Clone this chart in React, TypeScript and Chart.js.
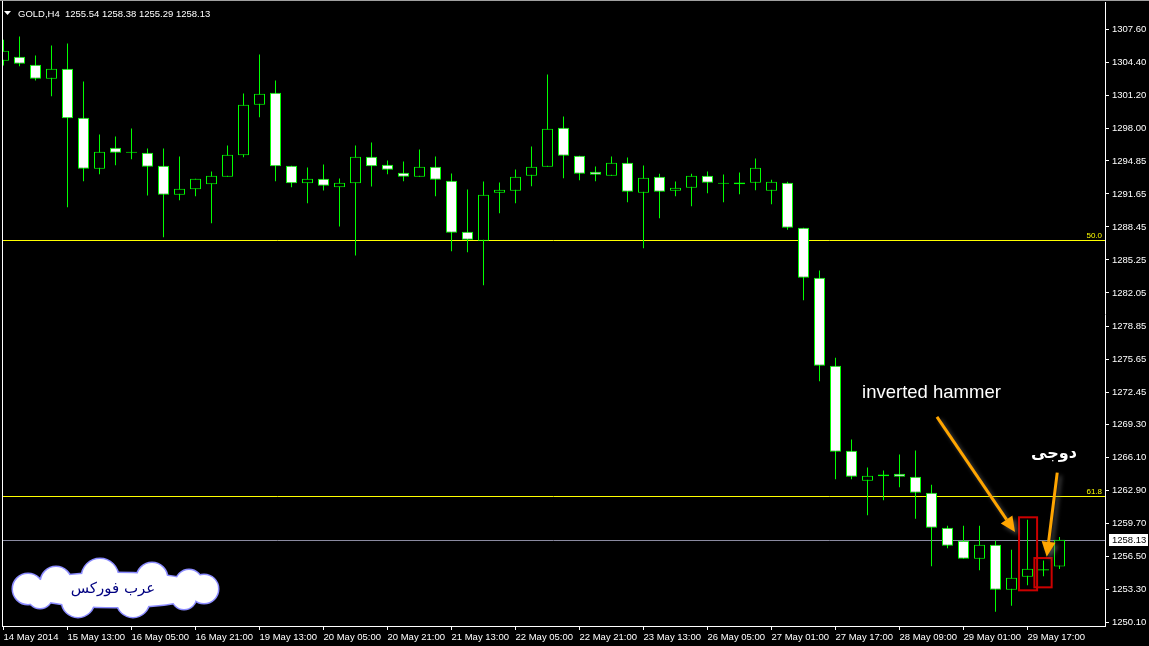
import React, { useEffect, useRef } from 'react';
import { Chart, registerables } from 'chart.js';

Chart.register(...registerables);

// ---------------- data ----------------
const symbolTitle = 'GOLD,H4';

const timeLabels = [
  '14 May 2014', '15 May 13:00', '16 May 05:00', '16 May 21:00', '19 May 13:00',
  '20 May 05:00', '20 May 21:00', '21 May 13:00', '22 May 05:00', '22 May 21:00',
  '23 May 13:00', '26 May 05:00', '27 May 01:00', '27 May 17:00', '28 May 09:00',
  '29 May 01:00', '29 May 17:00',
];
const timeLabelBars = [0, 4, 8, 12, 16, 20, 24, 28, 32, 36, 40, 44, 48, 52, 56, 60, 64];

const priceTicks = [
  1307.6, 1304.4, 1301.2, 1298.0, 1294.85, 1291.65, 1288.45, 1285.25, 1282.05, 1278.85,
  1275.65, 1272.45, 1269.3, 1266.1, 1262.9, 1259.7, 1256.5, 1253.3, 1250.1,
];

const opens = [
  1304.57, 1304.95, 1304.18, 1302.82, 1303.79, 1299.04, 1294.09, 1296.13, 1295.64, 1295.64,
  1294.38, 1291.57, 1292.11, 1292.60, 1293.32, 1295.41, 1300.30, 1301.46, 1294.38, 1292.70,
  1293.12, 1292.31, 1292.70, 1295.26, 1294.48, 1293.70, 1293.32, 1294.29, 1292.93, 1287.98,
  1287.11, 1291.77, 1291.96, 1293.41, 1294.29, 1298.07, 1295.35, 1293.80, 1293.41, 1294.67,
  1291.77, 1293.32, 1291.96, 1292.25, 1293.41, 1292.64, 1292.60, 1292.74, 1291.96, 1292.74,
  1288.37, 1283.52, 1274.99, 1266.75, 1263.84, 1264.28, 1264.52, 1264.23, 1262.68, 1259.28,
  1258.02, 1256.28, 1257.63, 1253.27, 1254.53, 1255.14, 1255.54,
];
const highs = [
  1306.60, 1306.92, 1305.08, 1306.05, 1306.24, 1302.56, 1297.42, 1297.22, 1298.00, 1296.06,
  1296.06, 1295.29, 1293.12, 1293.83, 1296.35, 1301.39, 1305.18, 1302.65, 1294.38, 1294.22,
  1294.51, 1293.15, 1296.35, 1296.64, 1294.90, 1294.80, 1295.96, 1295.29, 1293.64, 1292.09,
  1292.86, 1292.76, 1294.03, 1296.26, 1303.24, 1299.16, 1295.35, 1294.32, 1295.29, 1295.19,
  1294.41, 1293.61, 1292.86, 1293.61, 1293.83, 1293.54, 1293.73, 1295.09, 1293.03, 1292.83,
  1288.37, 1284.23, 1275.77, 1267.84, 1265.13, 1264.84, 1266.39, 1266.78, 1263.45, 1259.48,
  1259.48, 1259.48, 1258.02, 1257.15, 1260.06, 1256.11, 1258.38,
];
const lows = [
  1304.11, 1304.04, 1302.65, 1301.13, 1290.37, 1292.89, 1293.57, 1294.44, 1295.02, 1291.50,
  1287.46, 1291.05, 1291.44, 1288.82, 1293.32, 1295.22, 1299.10, 1292.89, 1292.31, 1290.76,
  1291.99, 1288.50, 1285.69, 1292.38, 1293.57, 1292.89, 1293.32, 1291.44, 1286.10, 1286.01,
  1282.81, 1289.79, 1290.76, 1292.41, 1294.29, 1293.18, 1292.99, 1292.89, 1293.41, 1290.85,
  1286.39, 1289.30, 1291.44, 1290.47, 1291.73, 1290.85, 1291.63, 1292.02, 1290.66, 1288.18,
  1281.35, 1273.50, 1264.00, 1264.00, 1260.50, 1261.96, 1263.22, 1260.15, 1255.56, 1257.30,
  1256.28, 1255.17, 1251.14, 1251.72, 1253.72, 1254.59, 1255.29,
];
const closes = [
  1305.53, 1304.27, 1302.82, 1303.79, 1299.00, 1294.09, 1295.74, 1295.64, 1295.64, 1294.29,
  1291.57, 1292.15, 1293.12, 1293.41, 1295.45, 1300.30, 1301.37, 1294.34, 1292.70, 1293.12,
  1292.44, 1292.74, 1295.26, 1294.34, 1294.00, 1293.32, 1294.29, 1293.03, 1287.89, 1287.21,
  1291.57, 1292.06, 1293.32, 1294.29, 1297.97, 1295.35, 1293.61, 1293.51, 1294.67, 1291.86,
  1293.22, 1291.86, 1292.25, 1293.41, 1292.74, 1292.64, 1292.76, 1294.19, 1292.83, 1288.37,
  1283.52, 1274.99, 1266.65, 1264.23, 1264.32, 1264.45, 1264.23, 1262.68, 1259.28, 1257.54,
  1256.28, 1257.63, 1253.27, 1254.43, 1255.31, 1255.27, 1258.13,
];

const fibLevels = [1287.21, 1262.41];
const fibNames = ['50.0', '61.8'];
const lastPrice = 1258.13;

// annotations (in bar index / price units)
const hammerLabel = { text: 'inverted hammer', x: 53.66, y: 1271.9 };
const dojiLabel = { text: 'دوجی', x: 65.66, y: 1266.44 };
const arrowStarts = [[58.34, 1270.03], [65.86, 1264.63]];
const arrowEnds = [[63.22, 1258.88], [65.2, 1256.48]];
const boxX0 = [63.47, 64.43];
const boxX1 = [64.6, 65.51];
const boxTop = [1260.3, 1256.35];
const boxBottom = [1253.22, 1253.51];
const logoText = 'عرب فوركس';

// ---------------- layout ----------------
const W = 1149;
const H = 646;
const PLOT_LEFT = 2;
const PLOT_RIGHT = 1105;
const PLOT_TOP = 2;
const PLOT_BOTTOM = 626;
const BAR_STEP = 16;
const FIRST_BAR_X = 3.5;
const X_MIN = -(FIRST_BAR_X - PLOT_LEFT) / BAR_STEP;
const X_MAX = X_MIN + (PLOT_RIGHT - PLOT_LEFT) / BAR_STEP;
const PX_PER_UNIT = (622.5 - 29.5) / (1307.6 - 1250.1);
const Y_MAX = 1307.6 + (29.5 - PLOT_TOP) / PX_PER_UNIT;
const Y_MIN = 1250.1 - (PLOT_BOTTOM - 622.5) / PX_PER_UNIT;

const AXIS_FONT = '"Liberation Sans", Arial, sans-serif';
const AXIS_SIZE = 9.5;
const GREEN = '#00ff00';
const FIB_COLOR = '#ffff00';

function drawArrow(ctx: CanvasRenderingContext2D, x1: number, y1: number, x2: number, y2: number) {
  const ang = Math.atan2(y2 - y1, x2 - x1);
  const headLen = 15;
  const headW = 7;
  const bx = x2 - headLen * Math.cos(ang);
  const by = y2 - headLen * Math.sin(ang);
  ctx.beginPath();
  ctx.moveTo(x1, y1);
  ctx.lineTo(bx, by);
  ctx.stroke();
  ctx.beginPath();
  ctx.moveTo(x2, y2);
  ctx.lineTo(bx + headW * Math.sin(ang), by - headW * Math.cos(ang));
  ctx.lineTo(bx - headW * Math.sin(ang), by + headW * Math.cos(ang));
  ctx.closePath();
  ctx.fill();
}

function drawCloud(ctx: CanvasRenderingContext2D) {
  const circles: [number, number, number][] = [
    [28, 589, 15], [56, 582, 15], [100, 577, 18], [152, 578, 15], [189, 583, 13],
    [40, 596, 12], [78, 601, 16], [133, 601, 16], [184, 597, 12], [204, 589, 14],
  ];
  ctx.save();
  ctx.strokeStyle = '#8c8cff';
  ctx.lineWidth = 3;
  ctx.beginPath();
  ctx.ellipse(115, 590, 92, 17, 0, 0, Math.PI * 2);
  ctx.stroke();
  for (const [cx, cy, r] of circles) {
    ctx.beginPath();
    ctx.arc(cx, cy, r, 0, Math.PI * 2);
    ctx.stroke();
  }
  ctx.fillStyle = '#ffffff';
  ctx.beginPath();
  ctx.ellipse(115, 590, 92, 17, 0, 0, Math.PI * 2);
  ctx.fill();
  for (const [cx, cy, r] of circles) {
    ctx.beginPath();
    ctx.arc(cx, cy, r, 0, Math.PI * 2);
    ctx.fill();
  }
  ctx.fillStyle = '#000080';
  ctx.font = '15px "DejaVu Sans", sans-serif';
  ctx.textAlign = 'center';
  ctx.textBaseline = 'middle';
  ctx.fillText(logoText, 113, 589);
  ctx.restore();
}

const overlayPlugin = {
  id: 'mt4Overlay',
  beforeDraw(chart: any) {
    const { ctx, width, height } = chart;
    ctx.save();
    ctx.fillStyle = '#000000';
    ctx.fillRect(0, 0, width, height);
    ctx.restore();
  },
  beforeDatasetsDraw(chart: any) {
    const { ctx, chartArea: a, scales } = chart;
    const y = scales.y;
    ctx.save();
    ctx.lineWidth = 1;
    fibLevels.forEach((v) => {
      const py = Math.round(y.getPixelForValue(v)) + 0.5;
      ctx.strokeStyle = FIB_COLOR;
      ctx.beginPath();
      ctx.moveTo(a.left, py);
      ctx.lineTo(a.right, py);
      ctx.stroke();
    });
    const lp = Math.round(y.getPixelForValue(lastPrice)) + 0.5;
    ctx.strokeStyle = '#8a8aa0';
    ctx.beginPath();
    ctx.moveTo(a.left, lp);
    ctx.lineTo(a.right, lp);
    ctx.stroke();
    ctx.restore();
  },
  afterDraw(chart: any) {
    const { ctx, chartArea: a, scales } = chart;
    const x = scales.x;
    const y = scales.y;
    ctx.save();
    // frame
    ctx.fillStyle = '#a0a0a0';
    ctx.fillRect(0, 0, W, 1);
    ctx.fillStyle = '#ffffff';
    ctx.fillRect(a.left, 1, 1, a.bottom - 1);

    // fib labels
    ctx.font = `8px ${AXIS_FONT}`;
    ctx.fillStyle = FIB_COLOR;
    ctx.textAlign = 'right';
    ctx.textBaseline = 'alphabetic';
    fibLevels.forEach((v, i) => {
      const py = Math.round(y.getPixelForValue(v));
      ctx.fillText(fibNames[i], a.right - 3, py - 2);
    });

    // header
    ctx.fillStyle = '#ffffff';
    ctx.beginPath();
    ctx.moveTo(4, 11);
    ctx.lineTo(11, 11);
    ctx.lineTo(7.5, 15);
    ctx.closePath();
    ctx.fill();
    const last = opens.length - 1;
    const header = `${symbolTitle}  ${opens[last].toFixed(2)} ${highs[last].toFixed(2)} ${lows[last].toFixed(2)} ${closes[last].toFixed(2)}`;
    ctx.font = `${AXIS_SIZE}px ${AXIS_FONT}`;
    ctx.textAlign = 'left';
    ctx.textBaseline = 'middle';
    ctx.fillText(header, 18, 14);

    // last price label
    const lp = Math.round(y.getPixelForValue(lastPrice));
    ctx.fillStyle = '#ffffff';
    ctx.fillRect(a.right + 4, lp - 6, 39, 12);
    ctx.fillStyle = '#000000';
    ctx.font = `${AXIS_SIZE}px ${AXIS_FONT}`;
    ctx.textAlign = 'left';
    ctx.textBaseline = 'middle';
    ctx.fillText(lastPrice.toFixed(2), a.right + 7, lp + 0.5);

    // red boxes
    ctx.strokeStyle = '#cc0000';
    ctx.lineWidth = 2;
    for (let i = 0; i < boxX0.length; i++) {
      const x0 = x.getPixelForValue(boxX0[i]);
      const x1 = x.getPixelForValue(boxX1[i]);
      const y0 = y.getPixelForValue(boxTop[i]);
      const y1 = y.getPixelForValue(boxBottom[i]);
      ctx.strokeRect(x0, y0, x1 - x0, y1 - y0);
    }

    // arrows
    ctx.strokeStyle = '#ffa500';
    ctx.fillStyle = '#ffa500';
    ctx.lineWidth = 3;
    ctx.shadowColor = 'rgba(120,120,120,0.6)';
    ctx.shadowBlur = 4;
    ctx.shadowOffsetX = 3;
    ctx.shadowOffsetY = 3;
    for (let i = 0; i < arrowStarts.length; i++) {
      drawArrow(
        ctx,
        x.getPixelForValue(arrowStarts[i][0]), y.getPixelForValue(arrowStarts[i][1]),
        x.getPixelForValue(arrowEnds[i][0]), y.getPixelForValue(arrowEnds[i][1]),
      );
    }
    ctx.shadowColor = 'transparent';
    ctx.shadowBlur = 0;
    ctx.shadowOffsetX = 0;
    ctx.shadowOffsetY = 0;

    // texts
    ctx.fillStyle = '#ffffff';
    ctx.font = '18.5px "Liberation Sans", Arial, sans-serif';
    ctx.textAlign = 'left';
    ctx.textBaseline = 'alphabetic';
    ctx.fillText(hammerLabel.text, x.getPixelForValue(hammerLabel.x), y.getPixelForValue(hammerLabel.y));
    ctx.font = 'bold 16px "DejaVu Sans", sans-serif';
    ctx.textAlign = 'center';
    ctx.textBaseline = 'middle';
    ctx.fillText(dojiLabel.text, x.getPixelForValue(dojiLabel.x), y.getPixelForValue(dojiLabel.y));

    drawCloud(ctx);
    ctx.restore();
  },
};

export default function App() {
  const canvasRef = useRef<HTMLCanvasElement | null>(null);

  useEffect(() => {
    document.body.style.margin = '0';
    document.body.style.background = '#000';
    const canvas = canvasRef.current;
    if (!canvas) return;

    const bodyData = opens.map((o, i) => ({ x: i, y: [o, closes[i]] }));
    const wickData = lows.map((l, i) => ({ x: i, y: [l, highs[i]] }));
    const bodyFill = opens.map((o, i) => (closes[i] >= o ? '#000000' : '#ffffff'));

    const chart = new Chart(canvas, {
      type: 'bar',
      data: {
        datasets: [
          {
            label: 'body',
            data: bodyData as any,
            backgroundColor: bodyFill,
            borderColor: GREEN,
            borderWidth: 1,
            borderSkipped: false,
            barThickness: 11,
            grouped: false,
            inflateAmount: 0,
            minBarLength: 1,
            order: 1,
            clip: 0,
          } as any,
          {
            label: 'wick',
            data: wickData as any,
            backgroundColor: GREEN,
            borderWidth: 0,
            barThickness: 1,
            grouped: false,
            inflateAmount: 0,
            order: 2,
            clip: 0,
          } as any,
        ],
      },
      options: {
        animation: false,
        responsive: false,
        maintainAspectRatio: false,
        events: [],
        layout: { padding: { left: PLOT_LEFT, top: PLOT_TOP, right: 0, bottom: 0 } },
        plugins: {
          legend: { display: false },
          tooltip: { enabled: false },
          title: { display: false },
        },
        scales: {
          x: {
            type: 'linear',
            position: 'bottom',
            min: X_MIN,
            max: X_MAX,
            offset: false,
            grid: { display: true, drawOnChartArea: false, drawTicks: true, tickLength: 4, color: '#ffffff', offset: false },
            border: { display: true, color: '#ffffff', width: 1 },
            afterBuildTicks: (s: any) => {
              s.ticks = timeLabelBars.map((v) => ({ value: v }));
            },
            afterFit: (s: any) => {
              s.height = H - PLOT_BOTTOM;
              s.paddingLeft = 0;
              s.paddingRight = 0;
            },
            ticks: {
              color: '#ffffff',
              font: { family: AXIS_FONT, size: AXIS_SIZE },
              align: 'start',
              autoSkip: false,
              maxRotation: 0,
              minRotation: 0,
              padding: 2,
              callback: (_v: any, i: number) => timeLabels[i] ?? '',
            },
          } as any,
          y: {
            type: 'linear',
            position: 'right',
            min: Y_MIN,
            max: Y_MAX,
            grid: { display: true, drawOnChartArea: false, drawTicks: true, tickLength: 4, color: '#ffffff' },
            border: { display: true, color: '#ffffff', width: 1 },
            afterBuildTicks: (s: any) => {
              s.ticks = priceTicks.map((v) => ({ value: v }));
            },
            afterFit: (s: any) => {
              s.width = W - PLOT_RIGHT;
              s.paddingTop = 0;
              s.paddingBottom = 0;
            },
            ticks: {
              color: '#ffffff',
              font: { family: AXIS_FONT, size: AXIS_SIZE },
              padding: 3,
              autoSkip: false,
              callback: (v: any) => Number(v).toFixed(2),
            },
          } as any,
        },
      },
      plugins: [overlayPlugin as any],
    });

    return () => chart.destroy();
  }, []);

  return (
    <div style={{ position: 'absolute', left: 0, top: 0, width: W, height: H, background: '#000' }}>
      <canvas ref={canvasRef} width={W} height={H} style={{ display: 'block', width: W, height: H }} />
    </div>
  );
}
